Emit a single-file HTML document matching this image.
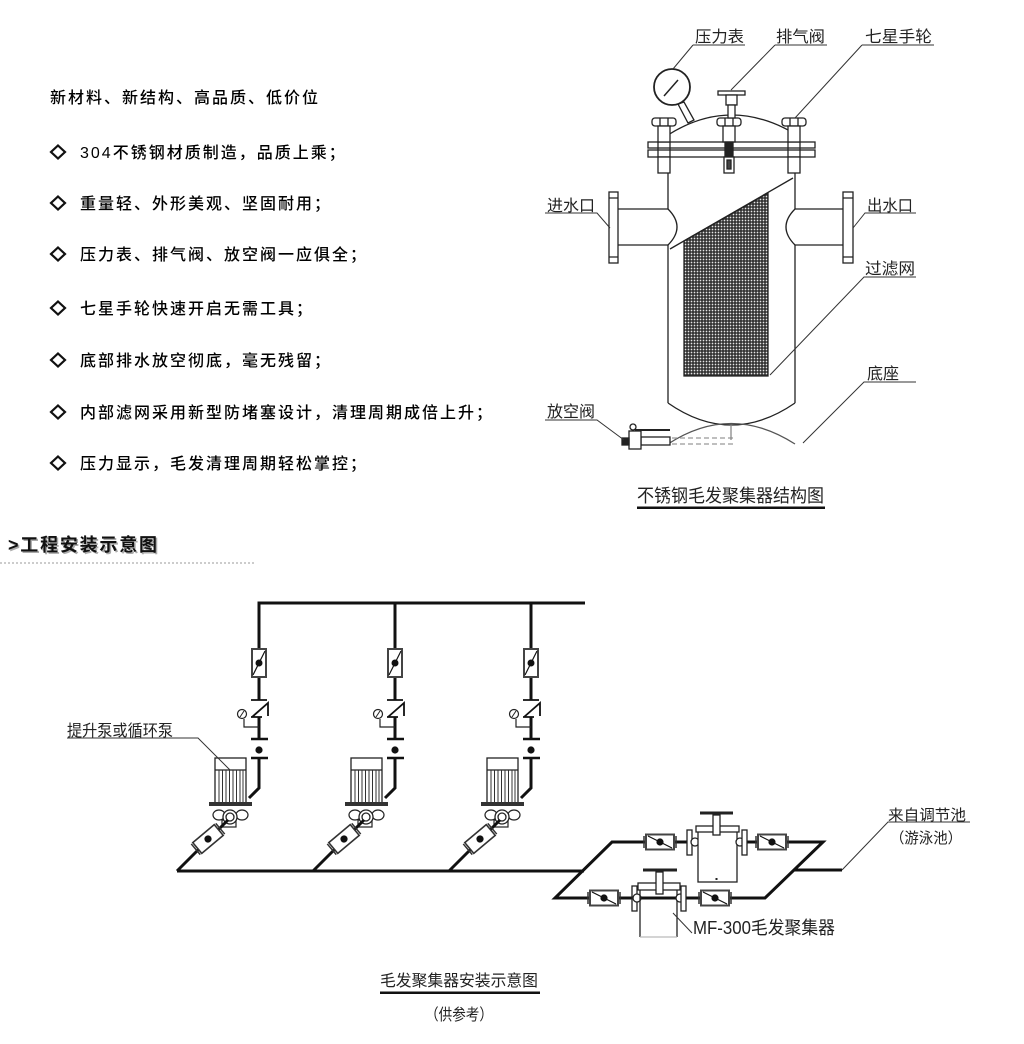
<!DOCTYPE html>
<html><head><meta charset="utf-8">
<style>
html,body{margin:0;padding:0;background:#fff;width:1024px;height:1044px;overflow:hidden}
svg{display:block}
.t{font-family:"Liberation Sans","Noto Sans CJK SC",sans-serif;font-size:16px;fill:#000;letter-spacing:2px;font-weight:500}
.c{font-family:"Liberation Sans","Noto Sans CJK SC",sans-serif;fill:#222}
</style></head><body>
<svg width="1024" height="1044" viewBox="0 0 1024 1044" xmlns="http://www.w3.org/2000/svg">
<defs>
<pattern id="mesh" width="3" height="3" patternUnits="userSpaceOnUse"><rect width="3" height="3" fill="#333"/><circle cx="1.5" cy="1.5" r="0.85" fill="#e6e6e6"/></pattern>
</defs>

<!-- ===== Top-left feature list ===== -->
<g fill="none" stroke="#111" stroke-width="2.2">
<polygon points="58,145.5 65,152 58,158.5 51,152"/>
<polygon points="58,196.5 65,203 58,209.5 51,203"/>
<polygon points="58,247.5 65,254 58,260.5 51,254"/>
<polygon points="58,301.5 65,308 58,314.5 51,308"/>
<polygon points="58,353.5 65,360 58,366.5 51,360"/>
<polygon points="58,405.5 65,412 58,418.5 51,412"/>
<polygon points="58,456.5 65,463 58,469.5 51,463"/>
</g>
<text class="t" x="50" y="103">新材料、新结构、高品质、低价位</text>
<text class="t" x="80" y="158">304不锈钢材质制造，品质上乘；</text>
<text class="t" x="80" y="209">重量轻、外形美观、坚固耐用；</text>
<text class="t" x="80" y="260">压力表、排气阀、放空阀一应俱全；</text>
<text class="t" x="80" y="314">七星手轮快速开启无需工具；</text>
<text class="t" x="80" y="366">底部排水放空彻底，毫无残留；</text>
<text class="t" x="80" y="418">内部滤网采用新型防堵塞设计，清理周期成倍上升；</text>
<text class="t" x="80" y="469">压力显示，毛发清理周期轻松掌控；</text>

<!-- ===== Filter structure drawing ===== -->
<g fill="none" stroke="#222" stroke-width="1.3">
  <path d="M668,157 V209 M668,245 V403 M795,157 V209 M795,245 V403"/>
  <path d="M668,403 Q731,447 795,403"/>
  <path d="M668,444 Q731,403 795,444" stroke="#555"/>
  <path d="M672,438 H735 M672,444 H735" stroke="#999" stroke-dasharray="5 3"/>
  <line x1="731" y1="425" x2="731" y2="440" stroke="#888"/>
  <path d="M618,209 H668 M618,245 H668"/>
  <path d="M668,209 Q686,227 668,245"/>
  <rect x="609" y="192" width="9" height="71" fill="#fff"/>
  <path d="M609,198 H618 M609,257 H618"/>
  <path d="M795,209 H843 M795,245 H843"/>
  <path d="M795,209 Q777,227 795,245"/>
  <rect x="843" y="192" width="10" height="71" fill="#fff"/>
  <path d="M843,198 H853 M843,257 H853"/>
  <line x1="793" y1="178" x2="670" y2="249"/>
  <polygon points="684,241 768,193 768,376 684,376" fill="url(#mesh)"/>
  <path d="M668,135 Q731,95 797,135"/>
  <rect x="648" y="142" width="167" height="6" fill="#fff"/>
  <rect x="648" y="150" width="167" height="7" fill="#fff"/>
  <g>
    <rect x="652" y="118" width="24" height="8" rx="3" fill="#fff"/>
    <path d="M660,118 V126 M668,118 V126"/>
    <rect x="658" y="126" width="12" height="16" fill="#fff"/>
    <rect x="658" y="157" width="12" height="16" fill="#fff"/>
    <path d="M658,142 V157 M670,142 V157"/>
  </g>
  <g>
    <rect x="717" y="118" width="24" height="8" rx="3" fill="#fff"/>
    <path d="M725,118 V126 M733,118 V126"/>
    <rect x="723" y="126" width="12" height="16" fill="#fff"/>
    <rect x="725" y="142" width="8" height="15" fill="#222"/>
    <rect x="724" y="157" width="10" height="16" fill="#fff"/>
    <rect x="727" y="160" width="4" height="9" fill="#444"/>
  </g>
  <g>
    <rect x="782" y="118" width="24" height="8" rx="3" fill="#fff"/>
    <path d="M790,118 V126 M798,118 V126"/>
    <rect x="788" y="126" width="12" height="16" fill="#fff"/>
    <rect x="788" y="157" width="12" height="16" fill="#fff"/>
    <path d="M788,142 V157 M800,142 V157"/>
  </g>
  <rect x="718" y="91" width="27" height="4" fill="#fff"/>
  <rect x="726" y="95" width="11" height="10" fill="#fff"/>
  <rect x="728" y="105" width="7" height="13" fill="#fff"/>
  <polygon points="678,104 684,102 694,120 688,123" fill="#fff"/>
  <circle cx="672" cy="87" r="18" fill="#fff" stroke-width="1.8"/>
  <line x1="664" y1="96" x2="678" y2="80" stroke-width="1.5"/>
  <rect x="641" y="437" width="29" height="8" fill="#fff"/>
  <rect x="629" y="431" width="12" height="18" fill="#fff"/>
  <line x1="635" y1="430" x2="670" y2="430" stroke-width="2"/>
  <circle cx="633" cy="427" r="3" fill="#fff"/>
  <rect x="622" y="438" width="7" height="7" fill="#222"/>
</g>
<g fill="none" stroke="#333" stroke-width="1">
  <path d="M693,45 H745 M693,45 L673,69"/>
  <path d="M775,45 H827 M775,45 L731,90"/>
  <path d="M862,45 H934 M862,45 L795,118"/>
  <path d="M545,213 H597 L610,228"/>
  <path d="M916,213 H865 L853,228"/>
  <path d="M916,277 H864 L770,375"/>
  <path d="M916,382 H864 L803,443"/>
  <path d="M545,420 H597 L624,440"/>
</g>
<g class="c" font-size="16">
  <text x="695" y="42" textLength="49" lengthAdjust="spacingAndGlyphs">压力表</text>
  <text x="776" y="42" textLength="49" lengthAdjust="spacingAndGlyphs">排气阀</text>
  <text x="865" y="42" textLength="67" lengthAdjust="spacingAndGlyphs">七星手轮</text>
  <text x="547" y="211" textLength="48" lengthAdjust="spacingAndGlyphs">进水口</text>
  <text x="867" y="211" textLength="46" lengthAdjust="spacingAndGlyphs">出水口</text>
  <text x="865" y="274" textLength="50" lengthAdjust="spacingAndGlyphs">过滤网</text>
  <text x="867" y="379" textLength="32" lengthAdjust="spacingAndGlyphs">底座</text>
  <text x="547" y="417" textLength="48" lengthAdjust="spacingAndGlyphs">放空阀</text>
</g>
<text class="c" x="637" y="502" font-size="18" textLength="187" lengthAdjust="spacingAndGlyphs">不锈钢毛发聚集器结构图</text>
<rect x="637" y="506.5" width="188" height="2.5" fill="#111"/>

<!-- ===== Section header ===== -->
<text x="9.5" y="552.5" font-family="Liberation Sans,'Noto Sans CJK SC',sans-serif" font-size="18" font-weight="700" fill="#aaa" textLength="149" lengthAdjust="spacing">&gt;工程安装示意图</text>
<text x="8" y="551" font-family="Liberation Sans,'Noto Sans CJK SC',sans-serif" font-size="18" font-weight="700" fill="#111" textLength="149" lengthAdjust="spacing">&gt;工程安装示意图</text>
<line x1="0" y1="563" x2="254" y2="563" stroke="#bbb" stroke-width="1.5" stroke-dasharray="2 2"/>

<!-- ===== Installation schematic ===== -->
<line x1="257.5" y1="603" x2="585" y2="603" stroke="#111" stroke-width="3"/>
<line x1="177" y1="871" x2="584" y2="871" stroke="#111" stroke-width="3"/>

<g id="branch">
  <path d="M259,603 V649 M259,677 V700 M259,717 V739 M259,758 V788 L249,798" stroke="#111" stroke-width="3" fill="none"/>
  <rect x="252" y="649" width="14" height="28" fill="#fff" stroke="#444" stroke-width="2"/>
  <line x1="253" y1="675" x2="265" y2="651" stroke="#111" stroke-width="1.2"/>
  <circle cx="259" cy="663" r="3.5" fill="#111"/>
  <path d="M251,700 H267 M252,717 L268,703 V716 M251,717 H262" stroke="#111" stroke-width="1.8" fill="none"/>
  <circle cx="242" cy="714" r="4.5" fill="#fff" stroke="#222" stroke-width="1.2"/>
  <line x1="240" y1="717" x2="244" y2="711" stroke="#222" stroke-width="1"/>
  <path d="M244,719 V727 H259" stroke="#222" stroke-width="1.2" fill="none"/>
  <line x1="251" y1="739" x2="268" y2="739" stroke="#111" stroke-width="2.5"/>
  <circle cx="259" cy="750" r="3.6" fill="#111"/>
  <line x1="251" y1="758" x2="268" y2="758" stroke="#111" stroke-width="2.5"/>
  <rect x="215" y="758" width="31" height="45" fill="#fff" stroke="#222" stroke-width="1.3"/>
  <line x1="215" y1="770" x2="246" y2="770" stroke="#222" stroke-width="1.3"/>
  <path d="M219,770V802 M222.5,770V802 M226,770V802 M229.5,770V802 M233,770V802 M236.5,770V802 M240,770V802 M243,770V802" stroke="#333" stroke-width="1"/>
  <rect x="209" y="802" width="43" height="4" fill="#333"/>
  <ellipse cx="219" cy="815" rx="6" ry="5" fill="#fff" stroke="#222" stroke-width="1.2"/>
  <ellipse cx="242" cy="815" rx="6" ry="5" fill="#fff" stroke="#222" stroke-width="1.2"/>
  <rect x="222" y="820" width="14" height="7" fill="#fff" stroke="#222" stroke-width="1.2"/>
  <circle cx="230" cy="817" r="7" fill="#fff" stroke="#222" stroke-width="1.3"/>
  <circle cx="230" cy="817" r="4" fill="none" stroke="#222" stroke-width="1.3"/>
  <line x1="177" y1="871" x2="228" y2="820" stroke="#111" stroke-width="3"/>
  <g transform="translate(208,839) rotate(-40)">
    <rect x="-14" y="-7" width="28" height="14" fill="#fff" stroke="#333" stroke-width="1.6"/>
    <path d="M-16,-7 V7 M16,-7 V7" stroke="#333" stroke-width="1.5"/>
    <circle r="3.6" fill="#111"/>
  </g>
</g>
<use href="#branch" x="136"/>
<use href="#branch" x="272"/>

<path d="M67,738 H198 L230,770" stroke="#333" stroke-width="1" fill="none"/>
<text class="c" x="67" y="736" font-size="16" textLength="106" lengthAdjust="spacingAndGlyphs">提升泵或循环泵</text>

<path d="M612,842 H823 L765,898 H555 Z" stroke="#111" stroke-width="3" fill="none" stroke-linejoin="miter"/>
<line x1="794" y1="870" x2="842" y2="870" stroke="#111" stroke-width="3"/>
<path d="M842,870 L888,822 H970" stroke="#333" stroke-width="1" fill="none"/>

<g id="hv" transform="translate(660,842)">
  <rect x="-14" y="-7.5" width="28" height="15" fill="#fff" stroke="#444" stroke-width="2"/>
  <path d="M-16,-6 V6 M16,-6 V6" stroke="#333" stroke-width="1.5"/>
  <line x1="-12" y1="-6" x2="12" y2="6" stroke="#111" stroke-width="1.2"/>
  <circle r="3.6" fill="#111"/>
</g>
<use href="#hv" x="112"/>
<use href="#hv" x="-56" y="56"/>
<use href="#hv" x="55" y="56"/>

<g stroke="#222" stroke-width="1.3" fill="#fff">
  <rect x="687" y="830" width="5" height="25"/>
  <circle cx="695" cy="842" r="4"/>
  <rect x="698" y="830" width="39" height="52"/>
  <circle cx="740" cy="842" r="4"/>
  <rect x="742" y="830" width="5" height="25"/>
  <rect x="696" y="826" width="43" height="6"/>
  <rect x="713" y="815" width="7" height="20"/>
  <line x1="700" y1="813" x2="733" y2="813" stroke-width="3"/>
  <line x1="716.5" y1="880" x2="716.5" y2="878" stroke-width="2"/>
</g>
<g stroke="#222" stroke-width="1.3" fill="#fff">
  <rect x="632" y="886" width="5" height="25"/>
  <circle cx="637" cy="898" r="4"/>
  <path d="M640,887 V937 M677,887 V937"/>
  <path d="M640,937 H677" stroke="#bbb"/>
  <circle cx="680" cy="898" r="4"/>
  <rect x="681" y="886" width="5" height="25"/>
  <rect x="638" y="883" width="42" height="7"/>
  <rect x="656" y="872" width="7" height="22"/>
  <line x1="643" y1="870" x2="677" y2="870" stroke-width="3"/>
</g>
<line x1="673" y1="913" x2="692" y2="933" stroke="#333" stroke-width="1"/>
<text class="c" x="693" y="934" font-size="18" textLength="142" lengthAdjust="spacingAndGlyphs">MF-300毛发聚集器</text>

<text class="c" x="888" y="820" font-size="15" textLength="78" lengthAdjust="spacingAndGlyphs">来自调节池</text>
<text class="c" x="890" y="843" font-size="15" textLength="72" lengthAdjust="spacingAndGlyphs">（游泳池）</text>

<text class="c" x="380" y="986" font-size="16" textLength="158" lengthAdjust="spacingAndGlyphs">毛发聚集器安装示意图</text>
<rect x="380" y="991.5" width="160" height="2.5" fill="#111"/>
<text class="c" x="425" y="1020" font-size="16" textLength="68" lengthAdjust="spacingAndGlyphs">（供参考）</text>
</svg>
</body></html>
